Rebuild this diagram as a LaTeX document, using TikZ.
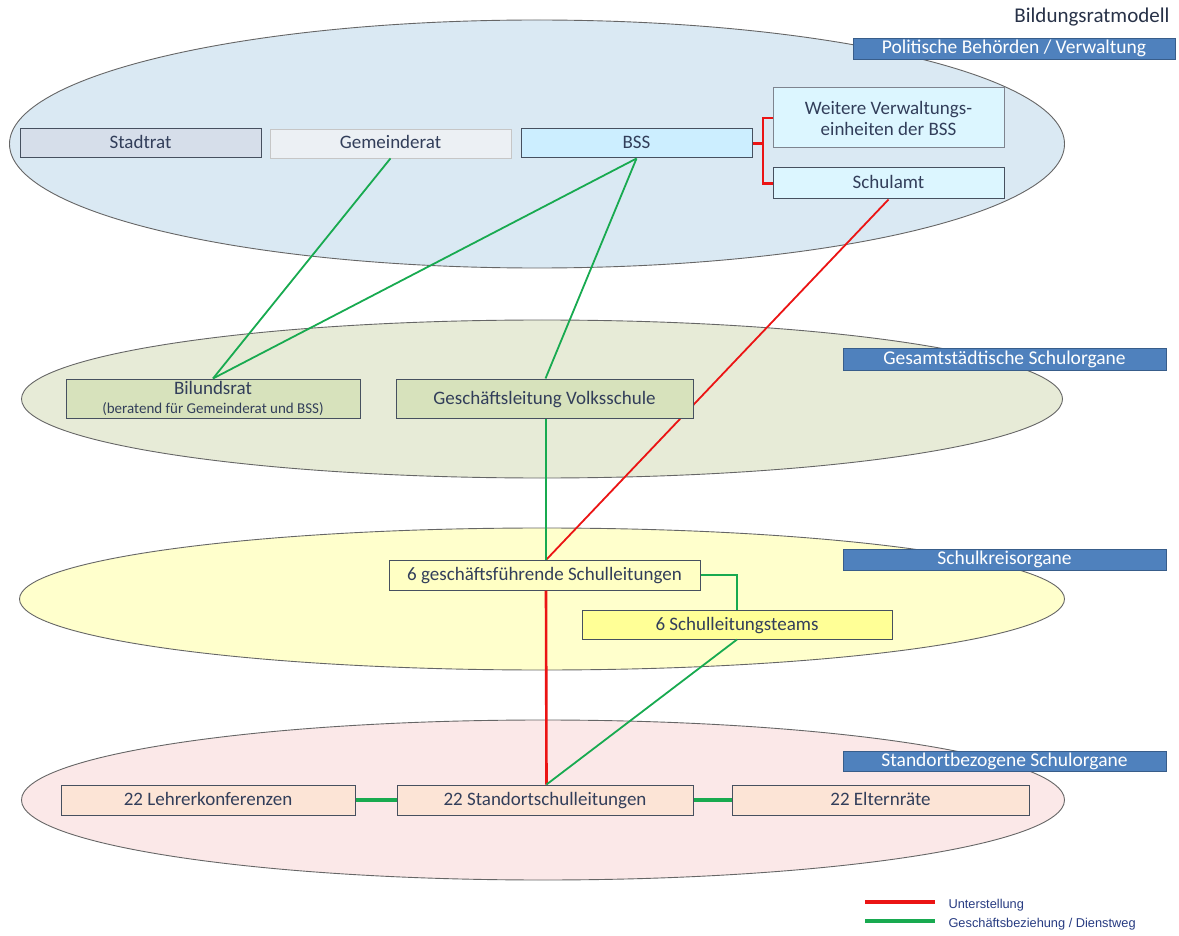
\documentclass[tikz,border=0pt]{standalone}
\usepackage{fontspec}
\setmainfont{Carlito}
\newfontfamily\legfont{Liberation Sans}
\usetikzlibrary{shapes.geometric}
\definecolor{txt}{RGB}{50,62,90}
\definecolor{ellA}{RGB}{218,233,243}
\definecolor{ellB}{RGB}{231,235,215}
\definecolor{ellC}{RGB}{255,255,204}
\definecolor{ellD}{RGB}{251,232,232}
\definecolor{barblue}{RGB}{79,129,189}
\definecolor{barline}{RGB}{56,93,138}
\definecolor{fStadt}{RGB}{214,222,234}
\definecolor{fGem}{RGB}{236,240,244}
\definecolor{fBSS}{RGB}{204,238,255}
\definecolor{fCyan}{RGB}{220,246,255}
\definecolor{fGreen}{RGB}{215,226,188}
\definecolor{fYel1}{RGB}{255,255,196}
\definecolor{fYel2}{RGB}{255,255,150}
\definecolor{fPeach}{RGB}{252,228,214}
\definecolor{lgreen}{RGB}{24,170,80}
\definecolor{lred}{RGB}{235,20,20}
\definecolor{boxline}{RGB}{70,80,95}
\definecolor{legtxt}{RGB}{40,60,130}
\tikzset{
  layer/.style={ellipse, draw=gray!80!black, line width=0.9pt, inner sep=0pt},
  orgbox/.style={draw=boxline, line width=1pt, inner sep=0pt, align=center,
     text=txt, font=\fontsize{19}{21}\selectfont},
  oneline/.style={text height=13.5pt, text depth=2.5pt},
  bar/.style={draw=barline, fill=barblue, text=white, inner sep=0pt,
     font=\fontsize{19.5}{21}\selectfont, text height=13pt, text depth=2.5pt},
  gline/.style={draw=lgreen, line width=2pt},
  rline/.style={draw=lred, line width=2pt},
}
\begin{document}
\begin{tikzpicture}[x=1pt,y=-1pt]
\useasboundingbox[fill=white] (0,0) rectangle (1179,936);
% layers
\node[layer, fill=ellA, minimum width=1055, minimum height=248] (L1) at (537,144) {};
\node[layer, fill=ellB, minimum width=1041, minimum height=158] (L2) at (542,399) {};
\node[layer, fill=ellC, minimum width=1045, minimum height=142] (L3) at (542,599) {};
\node[layer, fill=ellD, minimum width=1043, minimum height=160] (L4) at (543,800) {};
% title and bars
\node[anchor=east, text=txt!80!black, font=\fontsize{21}{23}\selectfont] (title) at (1173,17) {Bildungsratmodell};
\node[bar, minimum width=322, minimum height=21] (b1) at (1014,48.5) {Politische Behörden / Verwaltung};
\node[bar, minimum width=323, minimum height=22] (b2) at (1004.5,359) {Gesamtstädtische Schulorgane};
\node[bar, minimum width=323, minimum height=21] (b3) at (1004.5,559.5) {Schulkreisorgane};
\node[bar, minimum width=323, minimum height=20] (b4) at (1004.5,761) {Standortbezogene Schulorgane};
% top boxes
\node[orgbox, oneline, fill=fStadt, minimum width=241, minimum height=29] (stadt) at (140.5,143.5) {Stadtrat};
\node[orgbox, oneline, fill=fGem, draw=gray!45, line width=0.8pt, minimum width=241, minimum height=29] (gem) at (390.5,143.5) {Gemeinderat};
\node[orgbox, oneline, fill=fBSS, minimum width=231, minimum height=29] (bss) at (636.5,143.5) {BSS};
\node[orgbox, fill=fCyan, draw=boxline!70, minimum width=231, minimum height=60] (weit) at (888.5,118) {Weitere Verwaltungs-\\einheiten der BSS};
\node[orgbox, oneline, fill=fCyan, minimum width=231, minimum height=31] (amt) at (888.5,183.5) {Schulamt};
% red line behind boxes
\coordinate (gfsTop) at (546,560);
\draw[rline, line width=1.8pt] (amt.south) -- (gfsTop);
% second layer boxes
\node[orgbox, fill=fGreen, minimum width=294, minimum height=39] (bil) at (213,398.5) {{\fontsize{19}{18}\selectfont Bilundsrat}\\[-1.5pt]{\fontsize{15}{15}\selectfont (beratend für Gemeinderat und BSS)}};
\node[orgbox, oneline, fill=fGreen, minimum width=297, minimum height=39] (gl) at (544.5,398.5) {Geschäftsleitung Volksschule};
% third layer
\node[orgbox, oneline, fill=fYel1, minimum width=311, minimum height=30] (gfs) at (544.5,575) {6 geschäftsführende Schulleitungen};
\node[orgbox, oneline, fill=fYel2, minimum width=310, minimum height=29] (slt) at (737,624.5) {6 Schulleitungsteams};
% fourth layer
\node[orgbox, oneline, fill=fPeach, minimum width=294, minimum height=30] (lk) at (208,800) {22 Lehrerkonferenzen};
\node[orgbox, oneline, fill=fPeach, minimum width=296, minimum height=30] (ssl) at (545,800) {22 Standortschulleitungen};
\node[orgbox, oneline, fill=fPeach, minimum width=297, minimum height=30] (er) at (880.5,800) {22 Elternräte};
% connectors
\draw[gline, line width=1.8pt] (gem.south) -- (bil.north);
\draw[gline, line width=1.8pt] (bss.south) -- (bil.north);
\draw[gline, line width=1.8pt] (bss.south) -- ([xshift=1pt]gl.north);
\draw[gline, line width=2.4pt] ([xshift=1.5pt]gl.south) -- ([xshift=1.5pt]gfs.north);
\draw[gline, line width=2.4pt] (gfs.east) -| (slt.north);
\draw[rline, line width=2.6pt] ([xshift=1.5pt]gfs.south) -- ([xshift=1.5pt]ssl.north);
\draw[gline, line width=1.8pt] (slt.south) -- ([xshift=1.5pt]ssl.north);
\draw[gline, line width=3.5pt] (lk.east) -- (ssl.west);
\draw[gline, line width=3.5pt] (ssl.east) -- (er.west);
\coordinate (brk) at (763,143.5);
\draw[rline, line cap=butt, line width=2.6pt] (bss.east) -- (brk);
\draw[rline, line width=2.6pt] (weit.west) -| (brk) |- (amt.west);
% legend
\coordinate (r1) at (865,902); \coordinate (r2) at (935,902);
\coordinate (g1) at (865,921); \coordinate (g2) at (935,921);
\draw[rline, line width=3.2pt] (r1) -- (r2);
\draw[gline, line width=3.2pt] (g1) -- (g2);
\node[anchor=west, text=legtxt, font=\legfont\fontsize{12.8}{14}\selectfont] (leg1) at (945,905) {Unterstellung};
\node[anchor=west, text=legtxt, font=\legfont\fontsize{12.8}{14}\selectfont] (leg2) at (945,924) {Geschäftsbeziehung / Dienstweg};
\end{tikzpicture}
\end{document}
